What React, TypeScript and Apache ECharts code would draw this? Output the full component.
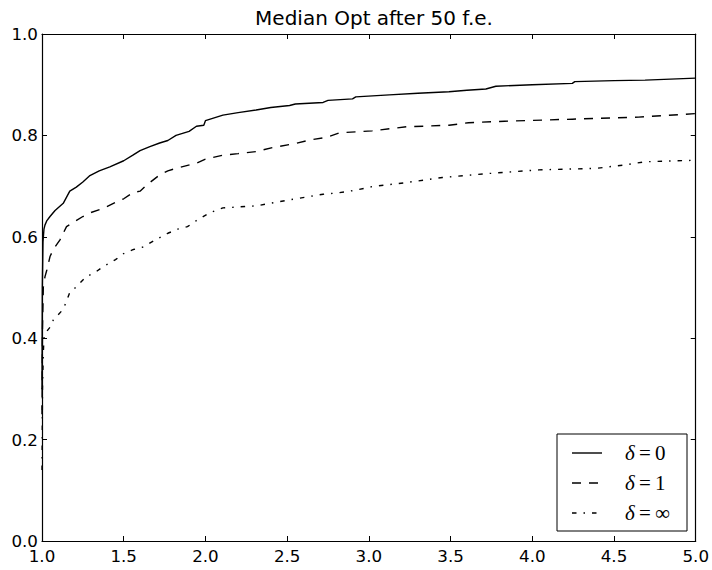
import React, { useEffect, useRef } from "react";
import * as echarts from "echarts";

const xTicks = { min: 1.0, max: 5.0, interval: 0.5 };
const yTicks = { min: 0.0, max: 1.0, interval: 0.2 };
const titleText = "Median Opt after 50 f.e.";
const seriesNames = ["δ=0", "δ=1", "δ=∞"];

const delta0: [number, number][] = [
  [1.0, 0.3], [1.002, 0.5], [1.006, 0.59], [1.012, 0.615], [1.018, 0.623], [1.03, 0.632],
  [1.049, 0.64], [1.08, 0.652], [1.13, 0.666], [1.17, 0.69], [1.21, 0.698], [1.25, 0.708],
  [1.29, 0.72], [1.35, 0.73], [1.415, 0.738], [1.5, 0.75], [1.556, 0.761], [1.6, 0.77],
  [1.66, 0.778], [1.72, 0.785], [1.77, 0.79], [1.82, 0.8], [1.87, 0.805], [1.9, 0.808],
  [1.945, 0.818], [1.99, 0.82], [2.0, 0.829], [2.107, 0.84], [2.2, 0.845], [2.31, 0.85],
  [2.4, 0.855], [2.515, 0.859], [2.55, 0.862], [2.72, 0.865], [2.75, 0.869], [2.9, 0.872],
  [2.92, 0.876], [3.125, 0.88], [3.3, 0.883], [3.49, 0.886], [3.6, 0.889], [3.716, 0.8915],
  [3.777, 0.897], [4.0, 0.9], [4.245, 0.9027], [4.26, 0.906], [4.5, 0.908], [4.69, 0.909],
  [5.0, 0.913],
];

const delta1: [number, number][] = [
  [1.0, 0.25], [1.003, 0.42], [1.008, 0.5], [1.018, 0.521], [1.03, 0.535], [1.049, 0.561],
  [1.069, 0.575], [1.11, 0.594], [1.15, 0.62], [1.2, 0.63], [1.25, 0.64], [1.3, 0.648],
  [1.375, 0.656], [1.456, 0.669], [1.5, 0.675], [1.556, 0.687], [1.6, 0.69], [1.64, 0.702],
  [1.72, 0.722], [1.77, 0.73], [1.82, 0.735], [1.905, 0.742], [1.945, 0.745], [2.0, 0.753],
  [2.107, 0.761], [2.2, 0.764], [2.31, 0.768], [2.41, 0.776], [2.55, 0.784], [2.64, 0.791],
  [2.74, 0.796], [2.82, 0.805], [3.02, 0.809], [3.23, 0.817], [3.49, 0.82], [3.61, 0.825],
  [3.83, 0.828], [4.245, 0.832], [4.65, 0.836], [5.0, 0.843],
];

const deltaInf: [number, number][] = [
  [1.0, 0.14], [1.003, 0.3], [1.008, 0.37], [1.012, 0.4], [1.02, 0.41], [1.06, 0.426],
  [1.069, 0.436], [1.13, 0.457], [1.17, 0.49], [1.19, 0.495], [1.27, 0.521], [1.33, 0.531],
  [1.375, 0.541], [1.45, 0.555], [1.5, 0.567], [1.56, 0.575], [1.62, 0.58], [1.7, 0.595],
  [1.77, 0.607], [1.83, 0.615], [1.89, 0.62], [1.945, 0.632], [2.03, 0.648], [2.107, 0.657],
  [2.31, 0.661], [2.515, 0.673], [2.72, 0.684], [2.82, 0.687], [2.92, 0.692], [3.02, 0.699],
  [3.23, 0.707], [3.45, 0.717], [3.74, 0.725], [4.04, 0.732], [4.39, 0.735], [4.57, 0.742],
  [4.69, 0.748], [5.0, 0.751],
];

const lineDashes: any[] = [null, [9, 8], [4.5, 7, 1.5, 7]];

export default function App() {
  const ref = useRef<HTMLDivElement>(null);
  useEffect(() => {
    if (!ref.current) return;
    const chart = echarts.init(ref.current, undefined, { renderer: "svg" });
    const font = "DejaVu Sans";
    const axisCommon = (pos: string, showLabel: boolean, margin: number) => ({
      position: pos,
      axisLine: { show: true, onZero: false, lineStyle: { color: "#000", width: 1.2 } },
      axisTick: { show: true, inside: true, length: 5, lineStyle: { color: "#000", width: 1 } },
      axisLabel: {
        show: showLabel,
        color: "#000",
        fontSize: 16.7,
        fontFamily: font,
        margin,
        formatter: (v: number) => v.toFixed(1),
      },
      splitLine: { show: false },
    });
    const xa = (pos: string, showLabel: boolean) => ({
      type: "value",
      min: xTicks.min,
      max: xTicks.max,
      interval: xTicks.interval,
      ...axisCommon(pos, showLabel, 6),
    });
    const ya = (pos: string, showLabel: boolean) => ({
      type: "value",
      min: yTicks.min,
      max: yTicks.max,
      interval: yTicks.interval,
      ...axisCommon(pos, showLabel, 4),
    });
    const datasets = [delta0, delta1, deltaInf];
    const rich = {
      d: { fontFamily: "Liberation Serif", fontStyle: "italic", fontSize: 21, fill: "#000" },
      e: { fontFamily: "Liberation Serif", fontSize: 21, fill: "#000" },
    };
    const legendBox = { x: 557, y: 434, w: 130, h: 97 };
    const legendItems: any[] = [];
    seriesNames.forEach((n, i) => {
      const cy = legendBox.y + 19 + i * 30;
      legendItems.push({
        type: "line",
        shape: { x1: legendBox.x + 15, y1: cy, x2: legendBox.x + 45, y2: cy },
        style: { stroke: "#000", lineWidth: 1.4, lineDash: lineDashes[i] || undefined },
        z: 101,
      });
      legendItems.push({
        type: "text",
        x: legendBox.x + 68,
        y: cy,
        style: {
          text: `{d|δ}{e|\u2009=\u2009${n.slice(2)}}`,
          rich,
          verticalAlign: "middle",
          align: "left",
        },
        z: 101,
      });
    });
    chart.setOption({
      animation: false,
      backgroundColor: "#fff",
      title: {
        text: titleText,
        left: 369,
        textAlign: "center",
        top: 3,
        textStyle: { fontFamily: font, fontSize: 20, fontWeight: "normal", color: "#000" },
      },
      grid: { left: 42, right: 16, top: 34, bottom: 29, containLabel: false },
      xAxis: [xa("bottom", true), xa("top", false)],
      yAxis: [ya("left", true), ya("right", false)],
      graphic: [
        {
          type: "rect",
          shape: { x: legendBox.x, y: legendBox.y, width: legendBox.w, height: legendBox.h },
          style: { fill: "#fff", stroke: "#000", lineWidth: 1 },
          z: 100,
        },
        ...legendItems,
      ],
      series: datasets.map((d, i) => ({
        name: seriesNames[i],
        type: "line",
        data: d,
        xAxisIndex: 0,
        yAxisIndex: 0,
        symbol: "none",
        showSymbol: false,
        smooth: false,
        clip: true,
        lineStyle: {
          color: "#000",
          width: 1.4,
          type: lineDashes[i] ? lineDashes[i] : "solid",
        },
        itemStyle: { color: "#000" },
      })),
    });
    return () => chart.dispose();
  }, []);
  return (
    <div
      ref={ref}
      style={{ width: 712, height: 570, position: "absolute", left: 0, top: 0 }}
    />
  );
}
